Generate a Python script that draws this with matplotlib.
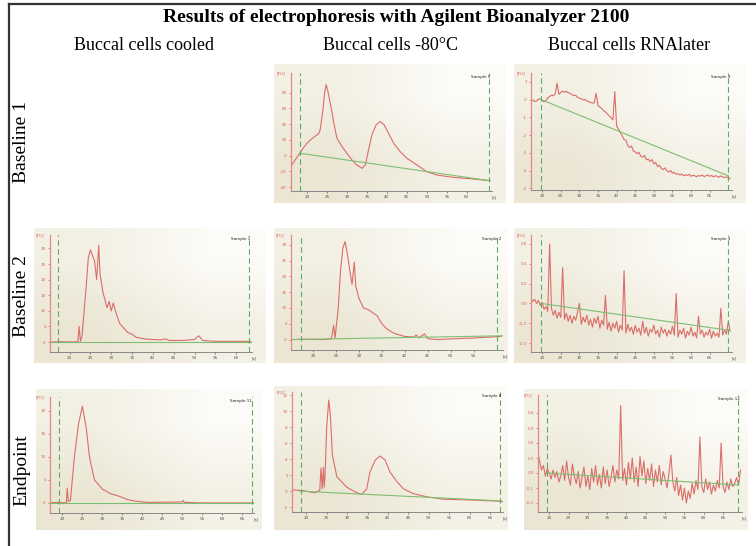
import numpy as np
import matplotlib
matplotlib.use('Agg')
import matplotlib.pyplot as plt
from matplotlib.colors import LinearSegmentedColormap
from matplotlib.lines import Line2D

W, H = 756, 546

title = 'Results of electrophoresis with Agilent Bioanalyzer 2100'
col_titles = ['Buccal cells cooled', 'Buccal cells -80°C', 'Buccal cells RNAlater']
row_titles = ['Baseline 1', 'Baseline 2', 'Endpoint']

# ---- Baseline 1, -80°C ----
b1_frz_t = [16.0, 18.2, 19.2, 20.4, 21.7, 22.9, 23.3, 24.0, 24.4, 24.8, 25.25, 25.8, 26.3,
            26.7, 27.5, 28.75, 30.0, 31.25, 32.5, 33.75, 34.6, 35.4, 36.25, 37.3, 38.3,
            39.3, 40.4, 41.7, 43.3, 45.0, 47.5, 50.0, 52.5, 56.7, 60.8, 65.8]
b1_frz_v = [-13.2, 3.0, 10.6, 17.9, 23.4, 27.7, 32.8, 58.3, 79.6, 90.2, 81.7, 66.8, 54.0,
            41.3, 22.1, 11.5, 3.0, -5.5, -11.9, -16.2, -11.9, 7.2, 26.4, 39.1, 43.4,
            39.1, 28.5, 15.7, 5.1, -3.4, -11.9, -20.4, -24.7, -27.7, -29.4, -31.9]
b1_frz_base = ([18.2, 65.8], [3.0, -31.9])

# ---- Baseline 1, RNAlater (every 0.5 s from 17 s) ----
b1_rna_v = [-0.06, -0.02, -0.11, -0.08, 0.02, 0.04, -0.05, -0.12, -0.06, 0.10,
            0.18, 0.25, 0.22, 0.33, 0.92, 0.30, 0.40, 0.48, 0.42, 0.47,
            0.38, 0.36, 0.28, 0.22, 0.25, 0.12, 0.08, 0.05, -0.02, 0.01,
            -0.08, -0.12, -0.15, -0.20, -0.18, 0.35, -0.34, -0.42, -0.50, -0.62,
            -0.70, -0.80, -0.93, -1.02, -1.15, 0.45, -1.50, -1.65, -1.85, -2.05,
            -2.25, -2.30, -2.60, -2.70, -2.62, -2.90, -2.95, -3.05, -2.98, -3.20,
            -3.25, -3.15, -3.40, -3.35, -3.50, -3.38, -3.62, -3.55, -3.78, -3.70,
            -3.88, -3.95, -3.85, -4.02, -4.08, -4.00, -4.15, -4.10, -4.22, -4.18,
            -4.25, -4.20, -4.30, -4.24, -4.28, -4.22, -4.33, -4.27, -4.30, -4.35,
            -4.28, -4.32, -4.26, -4.34, -4.30, -4.25, -4.33, -4.28, -4.36, -4.30,
            -4.32, -4.38, -4.30, -4.36, -4.40, -4.35, -4.42, -4.45]
b1_rna_base = ([19.7, 70.0], [0.0, -4.3])

# ---- Baseline 2, cooled ----
b2_cool_t = [15.3, 18, 20, 22.0, 22.3, 22.6, 23.0, 24.0, 24.5, 25.0, 26.0, 26.5, 27.0, 27.3,
             28.0, 29.0, 29.5, 30.0, 30.5, 31.0, 32.0, 33.0, 34.0, 35.0, 36.0, 38.0,
             40.0, 42.0, 43.0, 44.0, 47.0, 50.0, 51.0, 52.0, 55.0, 60.0, 63.5]
b2_cool_v = [0.0, 0.1, 0.0, 0.1, 5.0, 0.2, 2.0, 18.0, 27.0, 29.5, 26.0, 20.0, 31.0, 22.0,
             16.0, 11.0, 13.0, 10.0, 12.5, 10.0, 6.0, 4.5, 3.0, 2.5, 1.5, 1.0,
             0.8, 0.7, 1.0, 0.5, 0.5, 0.8, 2.0, 0.5, 0.2, 0.2, 0.2]
b2_cool_base = ([15.3, 63.5], [0.0, 0.0])

# ---- Baseline 2, -80°C ----
b2_frz_t = [15.2, 18, 22, 24.0, 24.5, 24.8, 25.5, 26.0, 26.5, 27.0, 27.5, 28.0, 28.5, 29.0,
            29.3, 30.0, 31.0, 32.0, 33.0, 34.0, 35.0, 36.0, 37.0, 38.0, 40.0, 42.0,
            42.5, 43.0, 44.3, 45.0, 47.0, 50.0, 55.0, 61.0]
b2_frz_v = [0.0, 0.1, 0.0, 0.2, 4.5, 0.5, 10.0, 22.0, 29.0, 31.0, 27.0, 22.0, 17.5, 24.5,
            17.0, 13.0, 10.0, 9.5, 8.5, 7.5, 5.0, 3.5, 2.5, 1.8, 1.0, 0.8,
            1.5, 0.5, 1.8, 0.3, 0.0, 0.2, 0.5, 1.0]
b2_frz_base = ([15.2, 61.4], [0.0, 1.2])

# ---- Baseline 2, RNAlater (every 0.5 s from 17 s) ----
b2_rna_v = [0.05, 0.02, 0.04, 0.00, 0.03, -0.02, 0.01, -0.06, -0.03, -0.08,
            0.60, -0.05, -0.12, -0.07, -0.15, -0.09, -0.14, 0.36, -0.16, -0.10,
            -0.18, -0.12, -0.20, -0.13, -0.17, -0.09, 0.00, -0.21, -0.14, -0.19,
            -0.12, -0.22, -0.16, -0.24, -0.15, -0.20, -0.13, -0.25, -0.17, -0.22,
            0.08, -0.26, -0.19, -0.28, -0.20, -0.25, -0.18, -0.29, -0.22, -0.27,
            0.33, -0.30, -0.21, -0.28, -0.24, -0.31, -0.22, -0.29, -0.25, -0.32,
            -0.18, -0.30, -0.24, -0.33, -0.26, -0.29, -0.22, -0.31, -0.27, -0.34,
            -0.24, -0.30, -0.26, -0.33, -0.27, -0.31, -0.23, -0.32, 0.10, -0.34,
            -0.27, -0.31, -0.25, -0.35, -0.28, -0.32, -0.24, -0.33, -0.29, -0.35,
            -0.13, -0.31, -0.27, -0.34, -0.29, -0.32, -0.26, -0.35, -0.28, -0.33,
            -0.30, -0.34, -0.05, -0.32, -0.27, -0.31, -0.18, -0.28]
b2_rna_base = ([19.7, 70.0], [0.0, -0.27])

# ---- Endpoint, cooled ----
end_cool_t = [16.9, 19, 21.0, 21.2, 21.5, 22.0, 23.0, 24.0, 25.0, 26.0, 26.7, 27.0, 28.0,
              29.0, 30.0, 32.0, 34.0, 36.0, 38.0, 40.0, 42.0, 50.0, 50.2, 50.5, 55.0, 67.9]
end_cool_v = [0.0, 0.1, 0.0, 3.2, 0.3, 0.5, 10.0, 17.0, 21.0, 16.0, 10.5, 9.0, 5.0,
              4.0, 3.0, 2.0, 1.5, 0.8, 0.4, 0.2, 0.1, 0.2, 0.5, 0.1, 0.0, 0.0]
end_cool_base = ([16.9, 67.9], [0.0, 0.0])

# ---- Endpoint, -80°C ----
end_frz_t = [16.5, 18.0, 20.0, 22.0, 23.3, 23.6, 23.9, 24.2, 24.4, 24.6, 25.0, 25.5, 25.9,
             26.4, 27.5, 29.9, 32.4, 33.6, 34.8, 35.6, 36.9, 38.1, 39.3, 40.5, 42.2,
             43.8, 46.2, 49.5, 53.6, 60.1, 67.4, 68.2]
end_frz_v = [0.2, 0.1, 0.0, -0.2, 0.1, 2.9, 0.3, 3.0, 0.5, 2.0, 8.0, 11.4, 9.5,
             4.5, 1.8, 0.5, -0.2, -0.4, 0.3, 2.4, 3.9, 4.4, 3.9, 2.4, 1.2,
             0.3, -0.3, -0.7, -1.0, -1.1, -1.25, -1.3]
end_frz_base = ([18.7, 67.4], [0.0, -1.2])

# ---- Endpoint, RNAlater (every 0.5 s from 17 s) ----
end_rna_v = [0.15, 0.08, 0.02, 0.05, -0.02, 0.03, 0.00, -0.04, 0.02, -0.03,
             0.01, -0.06, -0.02, 0.05, -0.05, 0.08, -0.03, -0.08, 0.06, -0.02,
             -0.07, 0.01, -0.10, -0.03, 0.04, -0.09, -0.02, -0.11, 0.03, -0.06,
             0.05, -0.08, -0.01, -0.10, 0.04, -0.07, 0.02, -0.09, -0.03, 0.05,
             -0.06, 0.02, -0.04, 0.45, -0.05, 0.03, -0.08, 0.07, -0.04, 0.10,
             -0.06, 0.04, -0.09, 0.11, -0.02, 0.08, -0.07, 0.03, -0.05, 0.06,
             -0.09, 0.02, -0.06, 0.05, -0.08, 0.01, -0.04, -0.10, 0.00, 0.12,
             -0.06, -0.12, -0.03, -0.15, -0.08, -0.18, -0.10, -0.20, -0.12, -0.17,
             -0.07, -0.14, -0.05, -0.11, 0.24, -0.09, -0.13, -0.04, -0.11, -0.06,
             -0.14, -0.08, -0.12, -0.05, -0.10, 0.20, -0.09, -0.13, -0.06, -0.11,
             -0.04, -0.09, -0.07, -0.03, -0.08, 0.02]
end_rna_base = ([19.3, 68.9], [0.0, -0.08])


def every_half_second(values, start=17.0):
    return np.arange(len(values)) * 0.5 + start


def px_rect(x0, y0, x1, y1):
    return [x0 / W, 1 - y1 / H, (x1 - x0) / W, (y1 - y0) / H]


bg_cmap = LinearSegmentedColormap.from_list('bg', ['#fcfbf7', '#ebe6d4'])
RED = '#d95f5c'
GREEN = '#7cbf72'


def draw_panel(fig, bg, box, t, v, base, xlim, ylim, yticks, dashes, sample, fmt='{:g}'):
    b = fig.add_axes(px_rect(*bg))
    b.imshow([[0.55, 0.0], [1.0, 0.5]], cmap=bg_cmap, interpolation='bilinear',
             aspect='auto', extent=[0, 1, 0, 1], vmin=0, vmax=1)
    b.axis('off')

    ax = fig.add_axes(px_rect(*box))
    ax.set_facecolor('none')
    ax.plot(t, v, color=RED, lw=0.8, alpha=0.9)
    ax.plot(base[0], base[1], color=GREEN, lw=0.8)
    for d in dashes:
        ax.axvline(d, color='#5fae5f', lw=0.8, ls=(0, (5, 3)))
    ax.set_xlim(xlim)
    ax.set_ylim(ylim)

    xt = [x for x in range(20, 70, 5) if xlim[0] < x < xlim[1] - 1.5]
    ax.set_xticks(xt)
    ax.set_xticklabels([str(x) for x in xt])
    ax.set_yticks(yticks)
    ax.set_yticklabels([fmt.format(y) for y in yticks])
    ax.tick_params(axis='x', labelsize=3, length=1.5, width=0.5, pad=1.5,
                   colors='#555555')
    ax.tick_params(axis='y', labelsize=3, length=1.5, width=0.5, pad=1.5,
                   colors=RED)
    for s in ['top', 'right']:
        ax.spines[s].set_visible(False)
    ax.spines['left'].set_color('#e08a88')
    ax.spines['left'].set_linewidth(0.9)
    ax.spines['bottom'].set_color('#888888')
    ax.spines['bottom'].set_linewidth(0.7)

    ax.text(-0.03, 1.0, '[FU]', transform=ax.transAxes, ha='right', va='center',
            fontsize=3, color=RED)
    ax.text(1.0, -0.035, '[s]', transform=ax.transAxes, ha='left', va='top',
            fontsize=3, color='#555555')
    ax.text(0.99, 0.985, sample, transform=ax.transAxes, ha='right', va='top',
            fontsize=3, color='#222222')
    return ax


fig = plt.figure(figsize=(W / 100, H / 100), dpi=100)

# outer frame (top and left edges)
fig.add_artist(Line2D([9 / W, 1], [1 - 4 / H, 1 - 4 / H], color='#333333', lw=1.6,
                      transform=fig.transFigure))
fig.add_artist(Line2D([9 / W, 9 / W], [0, 1 - 4 / H], color='#333333', lw=1.6,
                      transform=fig.transFigure))

fig.text(396 / W, 1 - 17 / H, title, ha='center', va='center', fontsize=14,
         fontweight='bold', family='Liberation Serif')
for x, txt in zip([144, 390, 629], col_titles):
    fig.text(x / W, 1 - 45 / H, txt, ha='center', va='center', fontsize=13,
             family='Liberation Serif')
for y, txt in zip([142, 296, 470], row_titles):
    fig.text(22 / W, 1 - y / H, txt, ha='center', va='center', fontsize=14,
             rotation=90, family='Liberation Serif')

# row 1
draw_panel(fig, (274, 64, 506, 203), (291, 73, 492, 191), b1_frz_t, b1_frz_v, b1_frz_base,
           (16.0, 66.3), (-45, 105), [-40, -20, 0, 20, 40, 60, 80], [18.2, 65.6], 'Sample 5')
draw_panel(fig, (514, 64, 746, 203), (531, 73, 732, 190), every_half_second(b1_rna_v), b1_rna_v,
           b1_rna_base, (17.0, 71.0), (-5.1, 1.5), [-5, -4, -3, -2, -1, 0, 1], [19.7, 70.0],
           'Sample 9')

# row 2
draw_panel(fig, (34, 228, 266, 363), (50, 235, 252, 352), b2_cool_t, b2_cool_v, b2_cool_base,
           (15.3, 63.8), (-3.2, 34.3), [0, 5, 10, 15, 20, 25, 30], [17.3, 63.0], 'Sample 1')
draw_panel(fig, (274, 228, 507, 363), (291, 235, 503, 350), b2_frz_t, b2_frz_v, b2_frz_base,
           (15.2, 61.4), (-3.3, 33.1), [0, 5, 10, 15, 20, 25, 30], [17.4, 60.2], 'Sample 2')
draw_panel(fig, (514, 228, 746, 363), (531, 235, 732, 352), every_half_second(b2_rna_v), b2_rna_v,
           b2_rna_base, (17.0, 71.0), (-0.49, 0.69), [-0.4, -0.2, 0.0, 0.2, 0.4, 0.6],
           [19.7, 70.0], 'Sample 3', fmt='{:.1f}')

# row 3
draw_panel(fig, (36, 389, 262, 530), (50, 397, 254, 513), end_cool_t, end_cool_v, end_cool_base,
           (16.9, 67.9), (-2.2, 23.0), [0, 5, 10, 15, 20], [19.25, 67.3], 'Sample 11')
draw_panel(fig, (274, 386, 507, 530), (292, 392, 503, 512), end_frz_t, end_frz_v, end_frz_base,
           (16.5, 68.2), (-2.6, 12.4), [-2, 0, 2, 4, 6, 8, 10, 12], [18.7, 67.4], 'Sample 8')
draw_panel(fig, (524, 389, 748, 530), (538, 395, 742, 512), every_half_second(end_rna_v), end_rna_v,
           end_rna_base, (17.1, 69.9), (-0.26, 0.52), [-0.2, -0.1, 0.0, 0.1, 0.2, 0.3, 0.4],
           [19.3, 68.9], 'Sample 12', fmt='{:.1f}')

fig.savefig('out.png', dpi=100)
